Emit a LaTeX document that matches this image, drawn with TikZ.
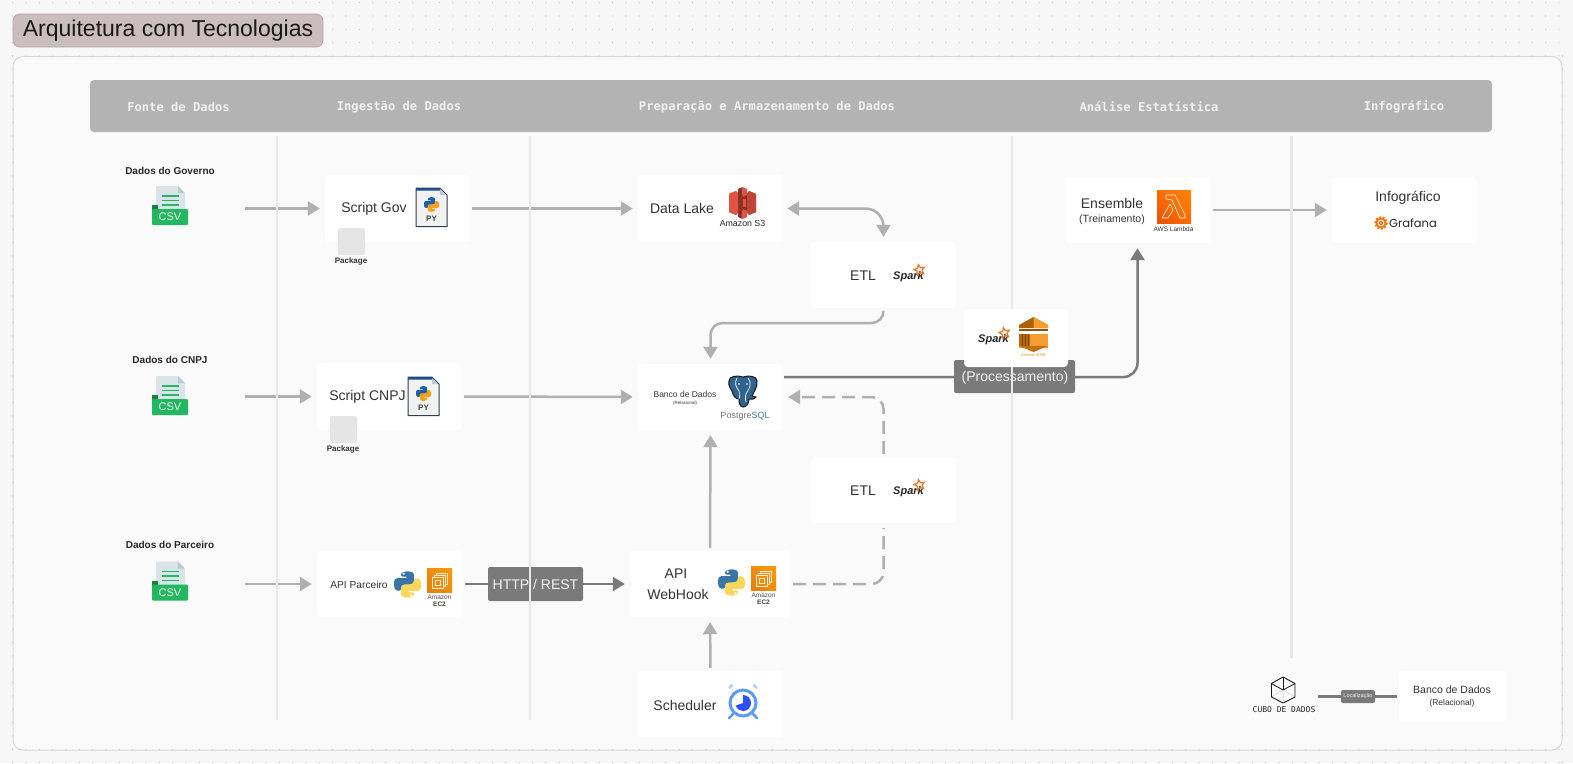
\documentclass[tikz,border=0pt]{standalone}
\usepackage{fontspec}
\setmainfont{Liberation Sans}
\newfontfamily\monof{DejaVu Sans Mono}
\newfontfamily\popf{Poppins}
\usetikzlibrary{arrows.meta,shadings}
\pgfdeclarelayer{bg}\pgfdeclarelayer{conn}\pgfdeclarelayer{vl}
\pgfsetlayers{bg,conn,vl,main}
\newcommand{\fsz}[1]{\fontsize{#1pt}{#1pt}\selectfont}
\definecolor{pagebg}{HTML}{F7F7F7}
\definecolor{panelbg}{HTML}{FAFAFA}
\definecolor{panelline}{HTML}{DDD6D6}
\definecolor{titlebg}{HTML}{C9BDBD}
\definecolor{titleline}{HTML}{B5A8A8}
\definecolor{headbg}{HTML}{B3B3B3}
\definecolor{connl}{HTML}{B0B0B0}
\definecolor{connd}{HTML}{7A7A7A}
\definecolor{vline}{HTML}{E8E8E8}
\definecolor{inkc}{HTML}{333333}
\definecolor{pyblue}{HTML}{3A75A8}
\definecolor{pyyel}{HTML}{F8D85A}
\definecolor{csvgreen}{HTML}{22B85F}
\definecolor{ecorange}{HTML}{F58B0A}
\definecolor{sparkor}{HTML}{E8762A}
\definecolor{clockb}{HTML}{5B9BF8}
\definecolor{docgrey}{HTML}{D9E3E8}
\definecolor{docfold}{HTML}{BCC9D0}
\definecolor{pyline}{HTML}{2F3E4E}
\definecolor{pyband}{HTML}{1F4E8C}
\definecolor{pydocb}{HTML}{1F5FA8}
\definecolor{pydoco}{HTML}{F9A01B}
\definecolor{sred}{HTML}{E05243}
\definecolor{sdark}{HTML}{8C3123}
\tikzset{
  x=1pt,y=-1pt,
  box/.style 2 args={fill=white,rounded corners=4pt,inner sep=0pt,minimum width=#1pt,minimum height=#2pt},
  txt/.style={inner sep=0pt,text=inkc,align=center},
  headtxt/.style={inner sep=0pt,text=white!94!black,font=\monof\bfseries\fsz{12.15}},
  srctxt/.style={inner sep=0pt,text=black!85,font=\bfseries\fsz{10}},
  pkg/.style={fill=black!10,rounded corners=2pt,inner sep=0pt,minimum width=27pt,minimum height=27pt},
  pkgtxt/.style={inner sep=0pt,text=black!80,font=\bfseries\fsz{8}},
  conn/.style={line width=2.5pt,draw=connl,-{Triangle[length=12pt,width=14pt]},shorten >=5pt,shorten <=3pt},
  conndark/.style={conn,draw=connd},
  dashconn/.style={conn,dash pattern=on 13pt off 7pt},
  tag/.style={fill=connd,rounded corners=2pt,inner sep=0pt,text=white!95!black},
  vsep/.style={line width=2.5pt,draw=vline},
}
\newcommand{\pylogo}[3]{\begin{scope}[shift={(#1,#2)},scale=#3]
 \foreach \cc/\rr/\ee in {pyblue/0/white,pyyel/180/white}{
 \begin{scope}[rotate around={\rr:(50,50)}]
  \fill[\cc,rounded corners=5pt*#3] (26,7)--(50,0)--(74,7)--(74,46)--(62,50)--(36,50)--(26,60)--(26,73)--(8,73)--(0,60)--(0,36)--(8,26)--(50,26)--(50,21)--(26,21)--cycle;
  \fill[\ee] (36,10) circle[radius=4.5];
 \end{scope}}
\end{scope}}
\newcommand{\csvicon}[3]{\begin{scope}[shift={(#2,#3)}]
 \fill[docgrey,rounded corners=1pt] (4,0)--(26,0)--(33,7)--(33,25)--(4,25)--cycle;
 \fill[docfold] (26,0)--(33,7)--(26,7)--cycle;
 \fill[csvgreen!70!black] (0,19) rectangle (6,26);
 \foreach \yy in {9,13.5,18}{\fill[csvgreen] (9.5,\yy) rectangle (27,\yy+1.5);}
 \fill[csvgreen,rounded corners=1pt] (0,23) rectangle (36,39);
 \node[inner sep=0pt,text=white,font=\fsz{11}] (#1txt) at (18,31) {CSV};
\end{scope}}
\newcommand{\pyfile}[3]{\begin{scope}[shift={(#2,#3)}]
 \filldraw[fill=black!5,draw=pyline,line width=1pt] (0,0)--(24,0)--(31,7)--(31,38.5)--(0,38.5)--cycle;
 \fill[pyband] (0,0)--(24,0)--(26,2.5)--(0,2.5)--cycle;
 \fill[docfold] (24,1)--(30,7)--(24,7)--cycle;
 \begin{scope}[shift={(8,9)},scale=0.15]
  \fill[pydocb,rounded corners=0.7pt] (26,7)--(50,0)--(74,7)--(74,46)--(62,50)--(36,50)--(26,60)--(26,73)--(8,73)--(0,60)--(0,36)--(8,26)--(50,26)--(50,21)--(26,21)--cycle;
  \begin{scope}[rotate around={180:(50,50)}]
  \fill[pydoco,rounded corners=0.7pt] (26,7)--(50,0)--(74,7)--(74,46)--(62,50)--(36,50)--(26,60)--(26,73)--(8,73)--(0,60)--(0,36)--(8,26)--(50,26)--(50,21)--(26,21)--cycle;
  \end{scope}
 \end{scope}
 \node[inner sep=0pt,text=black!75,font=\bfseries\fsz{8}] (#1txt) at (15.5,31) {PY};
\end{scope}}
\newcommand{\sparklogo}[3]{\begin{scope}[shift={(#2,#3)}]
 \node[inner sep=0pt,anchor=west,text=black!85,font=\bfseries\itshape\fsz{11}] (#1txt) at (0,11.5) {Spark};
 \begin{scope}[shift={(26.5,5)},rotate=12]
  \draw[sparkor,line width=1.2pt,line join=miter] (-90:5.5)--(-54:2.5)--(-18:5.5)--(18:2.5)--(54:5.5)--(90:2.5)--(126:5.5)--(162:2.5)--(198:5.5)--(234:2.5)--cycle;
 \end{scope}
\end{scope}}
\newcommand{\ectwo}[3]{\begin{scope}[shift={(#2,#3)}]
 \shade[lower left=ecorange!92!black,upper right=ecorange!85!yellow,lower right=ecorange,upper left=ecorange] (0,0) rectangle (25,24.5);
 \draw[white!85!ecorange,line width=0.4pt] (9,5) rectangle (20,16);
 \filldraw[fill=ecorange,draw=white!85!ecorange,line width=0.4pt] (7,7) rectangle (18,18);
 \filldraw[fill=ecorange,draw=white!85!ecorange,line width=0.4pt] (5,9) rectangle (16,20);
 \draw[white!85!ecorange,line width=0.4pt] (8,12) rectangle (13,17);
 \node[inner sep=0pt,text=black!70,font=\fsz{6.5}] (#1a) at (12.5,29.5) {Amazon};
 \node[inner sep=0pt,text=black!75,font=\bfseries\fsz{6.5}] (#1b) at (12.5,36.5) {EC2};
\end{scope}}
\newcommand{\elephant}[3]{\begin{scope}[shift={(#1,#2)},scale=#3]
 \filldraw[fill=pyblue!85!black,draw=black!90,line width=1pt] (2,6) .. controls (2,1) and (10,0) .. (16,2) .. controls (22,0) and (30,1) .. (30,6) .. controls (31,12) and (26,18) .. (25,21) -- (29,22) .. controls (27,25) and (24,24) .. (22,24) .. controls (22,28) and (20,32) .. (16,32) .. controls (13,32) and (12,28) .. (12,24) .. controls (8,24) and (6,20) .. (5,16) .. controls (3,13) and (1,10) .. (2,6) -- cycle;
 \draw[white,line width=0.7pt] (10,3) .. controls (7,8) and (9,12) .. (12,16) .. controls (13,20) and (13,22) .. (12,24);
 \draw[white,line width=0.7pt] (21,3) .. controls (25,8) and (23,13) .. (20,17) .. controls (18,20) and (18,24) .. (19,27);
 \fill[white] (12,9) circle[radius=0.9] (20,9) circle[radius=0.9];
\end{scope}}
\newcommand{\dotrow}[1]{\foreach \i in {0,...,117}{\fill[black!22] (-0.67+13.33*\i,#1) circle[radius=0.7];}}
\newcommand{\dotcol}[1]{\foreach \j in {4,...,57}{\fill[black!22] (#1,2.67+13.33*\j) circle[radius=0.7];}}
\begin{document}
\begin{tikzpicture}
\useasboundingbox (0,0) rectangle (1573,763);
\begin{pgfonlayer}{bg}
 \fill[pagebg] (0,0) rectangle (1573,763);
 \foreach \yy in {2.67,16,29.33,42.67}{\dotrow{\yy}}
 \dotcol{-0.67}
 \dotrow{762.7}
 \filldraw[fill=panelbg,draw=panelline,line width=1pt,rounded corners=10pt] (13,56.5) rectangle (1562,750);
 \dotrow{56}
 \dotrow{749.7}
 \dotcol{12.67}
 \dotcol{1562.3}
\end{pgfonlayer}

\node[draw=titleline,fill=titlebg,rounded corners=7pt,line width=0.8pt,inner sep=0pt,minimum width=310pt,minimum height=33pt] (title) at (168,30.5) {};
\node[inner sep=0pt,text=black!90,font=\fsz{23}] (titletxt) at (168,31) {Arquitetura com Tecnologias};

\node[fill=headbg,rounded corners=4pt,inner sep=0pt,minimum width=1402pt,minimum height=52pt] (header) at (791,106) {};
\node[headtxt] (h1) at (178.5,107) {Fonte de Dados};
\node[headtxt] (h2) at (399,107) {Ingestão de Dados};
\node[headtxt] (h3) at (767,107) {Preparação e Armazenamento de Dados};
\node[headtxt] (h4) at (1149,107) {Análise Estatística};
\node[headtxt] (h5) at (1404,107) {Infográfico};

\begin{pgfonlayer}{vl}
 \coordinate (v1a) at (277,136); \coordinate (v1b) at (277,720);
 \coordinate (v2a) at (530,136); \coordinate (v2b) at (530,720);
 \coordinate (v3a) at (1012,136); \coordinate (v3b) at (1012,720);
 \coordinate (v4a) at (1291.5,136); \coordinate (v4b) at (1291.5,658);
 \draw[vsep] (v1a)--(v1b);
 \draw[vsep] (v2a)--(v2b);
 \draw[vsep] (v3a)--(v3b);
 \draw[vsep] (v4a)--(v4b);
\end{pgfonlayer}

\node[srctxt] (srcg) at (170,170.5) {Dados do Governo};
\csvicon{csvg}{152}{186}
\node[srctxt] (srcc) at (170,359.5) {Dados do CNPJ};
\csvicon{csvc}{152}{376}
\node[srctxt] (srcp) at (170,545) {Dados do Parceiro};
\csvicon{csvp}{152}{561.5}
\coordinate (outg) at (242,208.5);
\coordinate (outc) at (242,396.5);
\coordinate (outp) at (242,584);

\node[box={144}{67}] (sgov) at (397,208.5) {};
\node[box={144}{67}] (scnpj) at (389,396.5) {};
\node[box={145}{66}] (apip) at (389.5,584) {};
\node[box={160}{66}] (apiw) at (710,584) {};
\node[box={145}{66}] (sched) at (710.5,704) {};
\node[box={145}{67}] (dl) at (710.5,208.5) {};
\node[box={145}{66}] (bd) at (710.5,397) {};
\node[box={145}{66}] (etla) at (883.5,275) {};
\node[box={145}{66}] (etlb) at (883.5,490) {};
\node[box={145}{66}] (ens) at (1137.5,210) {};
\node[box={145}{66}] (info) at (1404.5,210) {};
\node[box={107}{51}] (legbd) at (1452.5,696.5) {};
\node[box={104}{58}] (emr) at (1016,338) {};

\node[txt,font=\fsz{14}] (sgovt) at (374,209) {Script Gov};
\pyfile{pyg}{416}{188}
\node[pkg] (pkga) at (351.5,241.5) {};
\node[pkgtxt] (pkgat) at (351,261) {Package};
\node[txt,font=\fsz{14}] (scnpjt) at (367.5,397) {Script CNPJ};
\pyfile{pyc}{408}{377}
\node[pkg] (pkgb) at (343.5,429.5) {};
\node[pkgtxt] (pkgbt) at (343,449.5) {Package};
\node[txt,font=\fsz{10.2}] (apipt) at (359,585) {API Parceiro};
\pylogo{394}{571}{0.27}
\ectwo{ecp}{427}{568}
\node[txt,font=\fsz{14}] (apiwt) at (676,574) {API};
\node[txt,font=\fsz{14}] (apiwu) at (678,594) {WebHook};
\pylogo{718}{569}{0.27}
\ectwo{ecw}{751}{566}
\node[txt,font=\fsz{14}] (schedt) at (685,705) {Scheduler};
\begin{scope}[shift={(743,703)}]
 \draw[clockb,line width=3pt] (0,0) circle[radius=13];
 \fill[blue!50!clockb] (0,0)--(0,-8) arc[start angle=-90,end angle=160,radius=8]--cycle;
 \draw[clockb!50!white,line width=2.5pt] (-14,-15)--(-10.5,-18);
 \draw[clockb!50!white,line width=2.5pt] (14,-15)--(10.5,-18);
 \draw[clockb,line width=2.5pt,line cap=round] (-10,11)--(-14,15);
 \draw[clockb,line width=2.5pt,line cap=round] (10,11)--(14,15);
\end{scope}
\node[txt,font=\fsz{14}] (dlt) at (682,208.5) {Data Lake};
\begin{scope}[shift={(729,187)}]
 \fill[sdark] (7,8) rectangle (20,24);
 \fill[sdark!90!sred] (0,7)--(7,4)--(7,28)--(0,25)--cycle;
 \fill[sred] (27,7)--(20,4)--(20,28)--(27,25)--cycle;
 \fill[sred] (7,4)--(0,7)--(0,25)--(7,28)--(9,26)--(9,6)--cycle;
 \fill[sred!85!black] (18,6)--(20,4)--(27,7)--(27,25)--(20,28)--(18,26)--cycle;
 \fill[sdark] (9,2)--(13.5,0)--(13.5,10)--(9,8)--cycle;
 \fill[sred] (18,2)--(13.5,0)--(13.5,10)--(18,8)--cycle;
 \fill[sdark] (9,24)--(13.5,22)--(13.5,32)--(9,30)--cycle;
 \fill[sred] (18,24)--(13.5,22)--(13.5,32)--(18,30)--cycle;
 \fill[sred] (10,12) rectangle (17,20);
 \fill[sdark] (10,12) rectangle (13.5,20);
\end{scope}
\node[txt,font=\fsz{8.8},text=black!85] (s3t) at (742.5,223) {Amazon S3};
\node[txt,font=\fsz{14}] (etlat) at (863,275.5) {ETL};
\sparklogo{spa}{893}{265}
\node[txt,font=\fsz{14}] (etlbt) at (863,490.5) {ETL};
\sparklogo{spb}{893}{480}
\node[txt,font=\fsz{8.5}] (bdt) at (685,394) {Banco de Dados};
\node[txt,font=\fsz{4.5}] (bdu) at (685,403) {(Relacional)};
\elephant{727}{375}{1}
\node[inner sep=0pt,font=\fsz{9}] (pgt) at (745,416) {\textcolor{black!55}{Postgre}\textcolor{pyblue}{SQL}};
\sparklogo{spc}{978}{328}
\begin{scope}[shift={(1019,317)}]
 \fill[ecorange!70!black] (14.5,0)--(29,8)--(29,11)--(0,11)--(0,8)--cycle;
 \fill[ecorange!85!white] (14.5,0)--(29,8)--(29,11)--(14.5,11)--cycle;
 \fill[ecorange!60!black] (0,12)--(29,12)--(29,13.5)--(0,13.5)--cycle;
 \fill[ecorange!85!white] (0,17)rectangle(29,31);
 \fill[ecorange!75!black] (0,17)rectangle(11,29);
 \foreach \sx in {3,6,9}{\fill[ecorange!50!black] (\sx,17) rectangle (\sx+0.7,29);}
 \fill[ecorange!80!black] (29,29)--(0,29)--(14.5,35)--cycle;
\end{scope}
\node[inner sep=0pt,font=\fsz{4},text=ecorange] (emrt) at (1033.5,355) {Amazon EMR};
\node[txt,font=\fsz{14}] (enst) at (1112,203) {Ensemble};
\node[txt,font=\fsz{10.5}] (ensu) at (1112,219.5) {(Treinamento)};
\begin{scope}[shift={(1157,190)}]
 \shade[lower left=orange!70!red!90!black,upper right=orange!95!yellow,upper left=orange!85!red,lower right=orange!85!red] (0,0) rectangle (34,33);
 \draw[white,line width=0.6pt,line join=round] (9,5)--(18,5)--(28,25)--(28,28)--(23,28)--(15,10)--(9,9)--cycle;
 \draw[white,line width=0.6pt,line join=round] (13,14)--(16,20)--(11,28)--(5,28)--cycle;
\end{scope}
\node[txt,font=\fsz{6.5},text=black!80] (lamt) at (1173.5,229) {AWS Lambda};
\node[txt,font=\fsz{14}] (infot) at (1408,198) {Infográfico};
\begin{scope}[shift={(1381,223)}]
 \fill[orange!90!red] (0,0) circle[radius=5.5];
 \draw[orange!90!red,line width=1.8pt,dash pattern=on 2pt off 1.6pt] (0,0) circle[radius=5.8];
 \fill[white] (0,0) circle[radius=3.4];
 \fill[red!50!orange] (0,0) circle[radius=2];
 \fill[white] (0,0) circle[radius=0.9];
\end{scope}
\node[inner sep=0pt,anchor=center,text=black!85,font=\popf\fsz{11.5}] (graft) at (1413,223) {Grafana};
\begin{scope}[shift={(1283,690)}]
 \draw[black!90,line width=0.9pt,line join=round] (0,-13)--(12,-6.5)--(12,7)--(0,13)--(-11.5,7)--(-11.5,-6.5)--cycle;
 \draw[black!90,line width=0.8pt] (-11.5,-6.5)--(0,0)--(12,-6.5);
 \draw[black!90,line width=0.8pt] (0,-13)--(0,0);
 \draw[black!45,line width=0.5pt,densely dotted] (0,0)--(0,13) (0,0)--(12,7) (0,0)--(-11.5,7);
\end{scope}
\coordinate (cubeout) at (1318,696.5);
\node[inner sep=0pt,text=black!85,font=\monof\fsz{8}] (cubet) at (1284,710) {CUBO DE DADOS};
\node[txt,font=\fsz{10.5}] (legt) at (1452,690) {Banco de Dados};
\node[txt,font=\fsz{8.4}] (legu) at (1452,703) {(Relacional)};

\begin{pgfonlayer}{conn}
 \draw[conn] (outg)--(sgov.west);
 \draw[conn] (outc)--(scnpj.west);
 \draw[conn] (outp)--(apip.west);
 \draw[conn] (sgov.east)--(dl.west);
 \draw[conn] (scnpj.east)--(bd.west);
 \draw[conn,{Triangle[length=12pt,width=14pt]}-{Triangle[length=12pt,width=14pt]},shorten <=4pt,rounded corners=18pt] (dl.east) -| (etla.north);
 \draw[conn,rounded corners=12pt] (etla.south) |- (710.5,323) -- (bd.north);
 \draw[conn] (apiw.north)--(bd.south);
 \draw[conn] (sched.north)--(apiw.south);
 \draw[conn] (ens.east)--(info.west);
 \draw[dashconn,-,rounded corners=12pt] (apiw.east) -| (etlb.south);
 \draw[dashconn,rounded corners=12pt] (etlb.north) |- (bd.east);
 \coordinate (bdout) at (781,377);
 \draw[conndark,rounded corners=14pt] (bdout) -| (ens.south);
 \node[tag,minimum width=121pt,minimum height=33pt] (proc) at (1014.5,376.5) {};
 \node[inner sep=0pt,text=white!95!black,font=\fsz{14}] (proct) at (1015,377.5) {(Processamento)};
 \draw[conndark] (apip.east)--(apiw.west);
 \node[tag,minimum width=95pt,minimum height=34pt,font=\fsz{14}] (http) at (535.5,584) {HTTP / REST};
 \draw[line width=2.5pt,draw=connd,shorten >=2pt] (cubeout)--(legbd.west);
 \node[tag,minimum width=34pt,minimum height=13pt,font=\fsz{5.5}] (loc) at (1358,696.5) {Localização};
\end{pgfonlayer}
\end{tikzpicture}
\end{document}
